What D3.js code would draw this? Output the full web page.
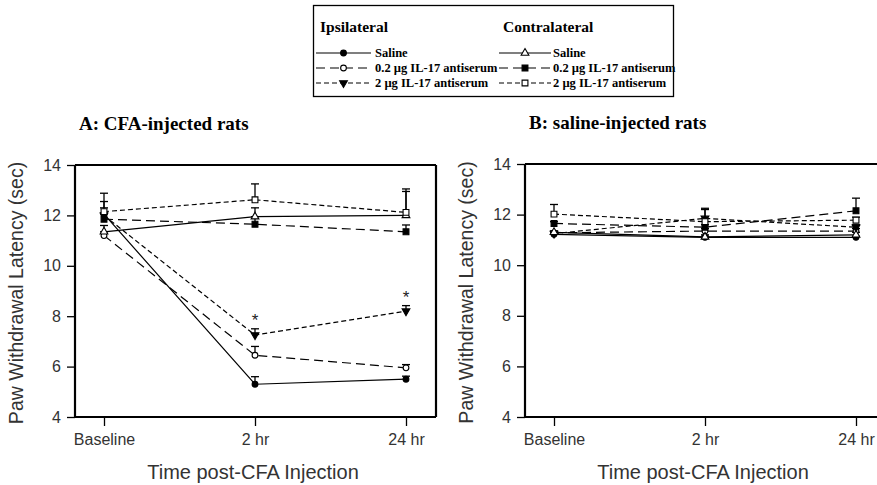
<!DOCTYPE html>
<html>
<head>
<meta charset="utf-8">
<script src="https://cdn.jsdelivr.net/npm/d3@7"></script>
<style>
  html, body { margin: 0; padding: 0; background: #fff; }
  svg { display: block; }
</style>
</head>
<body>
<svg id="chart" width="877" height="485"></svg>
<script>
/* ── Data ─────────────────────────────────────────────────────────── */

const timePoints = ['Baseline', '2 hr', '24 hr'];
const yTicks = [4, 6, 8, 10, 12, 14];

const seriesNames = [
  'ipsiSaline', 'ipsi02', 'ipsi2',
  'contraSaline', 'contra02', 'contra2',
];

// Panel A: CFA-injected rats (mean, upper error)
const cfaIpsiSaline     = [12.05, 5.3, 5.5];
const cfaIpsiSalineErr  = [12.55, 5.6, 5.62];
const cfaIpsi02         = [11.2, 6.45, 5.95];
const cfaIpsi02Err      = [11.35, 6.8, 6.08];
const cfaIpsi2          = [12.0, 7.25, 8.2];
const cfaIpsi2Err       = [12.3, 7.5, 8.42];
const cfaContraSaline   = [11.35, 11.95, 12.0];
const cfaContraSalineErr= [11.6, 12.3, 12.95];
const cfaContra02       = [11.85, 11.65, 11.35];
const cfaContra02Err    = [12.1, 11.95, 11.62];
const cfaContra2        = [12.15, 12.62, 12.12];
const cfaContra2Err     = [12.88, 13.25, 13.05];
const cfaStars          = [false, true, true];   // significance on ipsi 2 µg

// Panel B: saline-injected rats
const salIpsiSaline     = [11.22, 11.1, 11.1];
const salIpsiSalineErr  = [11.3, 11.15, 11.15];
const salIpsi02         = [11.28, 11.35, 11.35];
const salIpsi02Err      = [11.35, 11.45, 11.45];
const salIpsi2          = [11.25, 11.85, 11.5];
const salIpsi2Err       = [11.3, 12.2, 11.6];
const salContraSaline   = [11.3, 11.12, 11.2];
const salContraSalineErr= [11.35, 11.2, 11.3];
const salContra02       = [11.65, 11.5, 12.15];
const salContra02Err    = [11.72, 11.6, 12.65];
const salContra2        = [12.02, 11.72, 11.78];
const salContra2Err     = [12.4, 12.25, 11.9];

/* ── Styles ───────────────────────────────────────────────────────── */

const STYLE = {
  ipsiSaline:   { dash: null,   marker: 'circle',   fill: '#000', label: 'Saline' },
  ipsi02:       { dash: '9,5',  marker: 'circle',   fill: '#fff', label: '0.2 \u00b5g IL-17 antiserum' },
  ipsi2:        { dash: '5,3',  marker: 'triDown',  fill: '#000', label: '2 \u00b5g IL-17 antiserum' },
  contraSaline: { dash: null,   marker: 'triUp',    fill: '#fff', label: 'Saline' },
  contra02:     { dash: '9,5',  marker: 'square',   fill: '#000', label: '0.2 \u00b5g IL-17 antiserum' },
  contra2:      { dash: '5,3',  marker: 'square',   fill: '#fff', label: '2 \u00b5g IL-17 antiserum' },
};

const SANS = '"Liberation Sans", Arial, sans-serif';
const SERIF = '"Liberation Serif", "Times New Roman", serif';

const svg = d3.select('#chart');

/* ── Helpers ──────────────────────────────────────────────────────── */

function markerPath(type) {
  const sym = {
    circle: d3.symbolCircle,
    square: d3.symbolSquare,
    triUp: d3.symbolTriangle,
    triDown: d3.symbolTriangle,
  }[type];
  const size = { circle: 26, square: 34, triUp: 26, triDown: 26 }[type];
  return d3.symbol().type(sym).size(size)();
}

function drawMarker(g, type, fill, x, y) {
  g.append('path')
    .attr('d', markerPath(type))
    .attr('transform', `translate(${x},${y})${type === 'triDown' ? ' rotate(180)' : ''}`)
    .attr('fill', fill)
    .attr('stroke', '#000')
    .attr('stroke-width', 1.1);
}

/* ── Panel ────────────────────────────────────────────────────────── */

function drawPanel(opt) {
  const { left, top, width, height, title, series, stars, rightBorder } = opt;

  const x = d3.scalePoint().domain(timePoints).range([left + 29, left + width - 30]);
  const y = d3.scaleLinear().domain([4, 14]).range([top + height, top]);

  const g = svg.append('g');

  // Title
  g.append('text')
    .attr('x', left + 4).attr('y', top - 35)
    .attr('font-family', SERIF).attr('font-weight', 'bold').attr('font-size', 19)
    .text(title);

  // Y axis
  const yAxis = g.append('g')
    .attr('transform', `translate(${left},0)`)
    .call(d3.axisLeft(y).tickValues(yTicks).tickSize(8).tickPadding(6).tickFormat(d3.format('d')));
  yAxis.select('.domain').remove();
  yAxis.selectAll('line').attr('stroke', '#000').attr('stroke-width', 1.3);
  yAxis.selectAll('text').attr('font-family', SANS).attr('font-size', 16).attr('fill', '#333');

  // X axis
  const xAxis = g.append('g')
    .attr('transform', `translate(0,${top + height})`)
    .call(d3.axisBottom(x).tickSize(9).tickPadding(8));
  xAxis.select('.domain').remove();
  xAxis.selectAll('line').attr('stroke', '#000').attr('stroke-width', 1.3);
  xAxis.selectAll('text').attr('font-family', SANS).attr('font-size', 16).attr('fill', '#333');

  // Frame
  const frame = g.append('g').attr('fill', 'none').attr('stroke', '#000').attr('stroke-width', 2.2);
  frame.append('line').attr('x1', left).attr('x2', left).attr('y1', top).attr('y2', top + height);
  frame.append('line').attr('x1', left).attr('x2', left + width).attr('y1', top + height).attr('y2', top + height);
  frame.append('line').attr('x1', left).attr('x2', left + width).attr('y1', top).attr('y2', top);
  if (rightBorder) {
    frame.append('line').attr('x1', left + width).attr('x2', left + width).attr('y1', top).attr('y2', top + height);
  }

  // Axis titles
  g.append('text')
    .attr('transform', `translate(${left - 52},${top + height / 2 + 2}) rotate(-90)`)
    .attr('text-anchor', 'middle')
    .attr('font-family', SANS).attr('font-size', 19.5).attr('fill', '#333')
    .text('Paw Withdrawal Latency (sec)');
  g.append('text')
    .attr('x', (x('Baseline') + x('24 hr')) / 2 - 2).attr('y', top + height + 62)
    .attr('text-anchor', 'middle')
    .attr('font-family', SANS).attr('font-size', 20).attr('fill', '#333')
    .text('Time post-CFA Injection');

  // Series lines, error bars, markers
  const line = d3.line().x((d, i) => x(timePoints[i])).y(d => y(d));
  const marks = g.append('g');

  seriesNames.forEach(name => {
    const s = series[name];
    const st = STYLE[name];
    marks.append('path')
      .attr('d', line(s.values))
      .attr('fill', 'none')
      .attr('stroke', '#000')
      .attr('stroke-width', 1.2)
      .attr('stroke-dasharray', st.dash);
  });

  seriesNames.forEach(name => {
    const s = series[name];
    s.values.forEach((v, i) => {
      const cx = x(timePoints[i]);
      const e = s.err[i];
      marks.append('line')
        .attr('x1', cx).attr('x2', cx).attr('y1', y(v)).attr('y2', y(e))
        .attr('stroke', '#000').attr('stroke-width', 1.3);
      marks.append('line')
        .attr('x1', cx - 4).attr('x2', cx + 4).attr('y1', y(e)).attr('y2', y(e))
        .attr('stroke', '#000').attr('stroke-width', 1.3);
    });
  });

  seriesNames.forEach(name => {
    const s = series[name];
    const st = STYLE[name];
    s.values.forEach((v, i) => drawMarker(marks, st.marker, st.fill, x(timePoints[i]), y(v)));
  });

  // Significance asterisks
  if (stars) {
    stars.forEach((on, i) => {
      if (!on) return;
      marks.append('text')
        .attr('x', x(timePoints[i])).attr('y', y(series.ipsi2.err[i]) - 3)
        .attr('text-anchor', 'middle')
        .attr('font-family', SANS).attr('font-size', 17).attr('fill', '#222')
        .text('*');
    });
  }
}

drawPanel({
  left: 75, top: 165, width: 361, height: 252, rightBorder: true,
  title: 'A: CFA-injected rats',
  stars: cfaStars,
  series: {
    ipsiSaline:   { values: cfaIpsiSaline,   err: cfaIpsiSalineErr },
    ipsi02:       { values: cfaIpsi02,       err: cfaIpsi02Err },
    ipsi2:        { values: cfaIpsi2,        err: cfaIpsi2Err },
    contraSaline: { values: cfaContraSaline, err: cfaContraSalineErr },
    contra02:     { values: cfaContra02,     err: cfaContra02Err },
    contra2:      { values: cfaContra2,      err: cfaContra2Err },
  },
});

drawPanel({
  left: 525, top: 164, width: 361, height: 253, rightBorder: false,
  title: 'B: saline-injected rats',
  series: {
    ipsiSaline:   { values: salIpsiSaline,   err: salIpsiSalineErr },
    ipsi02:       { values: salIpsi02,       err: salIpsi02Err },
    ipsi2:        { values: salIpsi2,        err: salIpsi2Err },
    contraSaline: { values: salContraSaline, err: salContraSalineErr },
    contra02:     { values: salContra02,     err: salContra02Err },
    contra2:      { values: salContra2,      err: salContra2Err },
  },
});

/* ── Legend ───────────────────────────────────────────────────────── */

const legend = svg.append('g');
legend.append('rect')
  .attr('x', 313.5).attr('y', 5.5).attr('width', 360).attr('height', 91)
  .attr('fill', '#fff').attr('stroke', '#000').attr('stroke-width', 1.3);

const legendCols = [
  { header: 'Ipsilateral',   names: ['ipsiSaline', 'ipsi02', 'ipsi2'],         x0: 316, x1: 371, tx: 375 },
  { header: 'Contralateral', names: ['contraSaline', 'contra02', 'contra2'],   x0: 499, x1: 551, tx: 553 },
];
const rowY = [53, 68, 83];

legendCols.forEach(col => {
  legend.append('text')
    .attr('x', col.x0 + 4).attr('y', 32)
    .attr('font-family', SERIF).attr('font-weight', 'bold').attr('font-size', 15.5)
    .text(col.header);
  col.names.forEach((name, i) => {
    const st = STYLE[name];
    legend.append('line')
      .attr('x1', col.x0).attr('x2', col.x1).attr('y1', rowY[i]).attr('y2', rowY[i])
      .attr('stroke', '#000').attr('stroke-width', 1.2)
      .attr('stroke-dasharray', st.dash);
    drawMarker(legend, st.marker, st.fill, (col.x0 + col.x1) / 2, rowY[i]);
    legend.append('text')
      .attr('x', col.tx).attr('y', rowY[i] + 4)
      .attr('font-family', SERIF).attr('font-weight', 'bold').attr('font-size', 12.5)
      .text(st.label);
  });
});
</script>
</body>
</html>
